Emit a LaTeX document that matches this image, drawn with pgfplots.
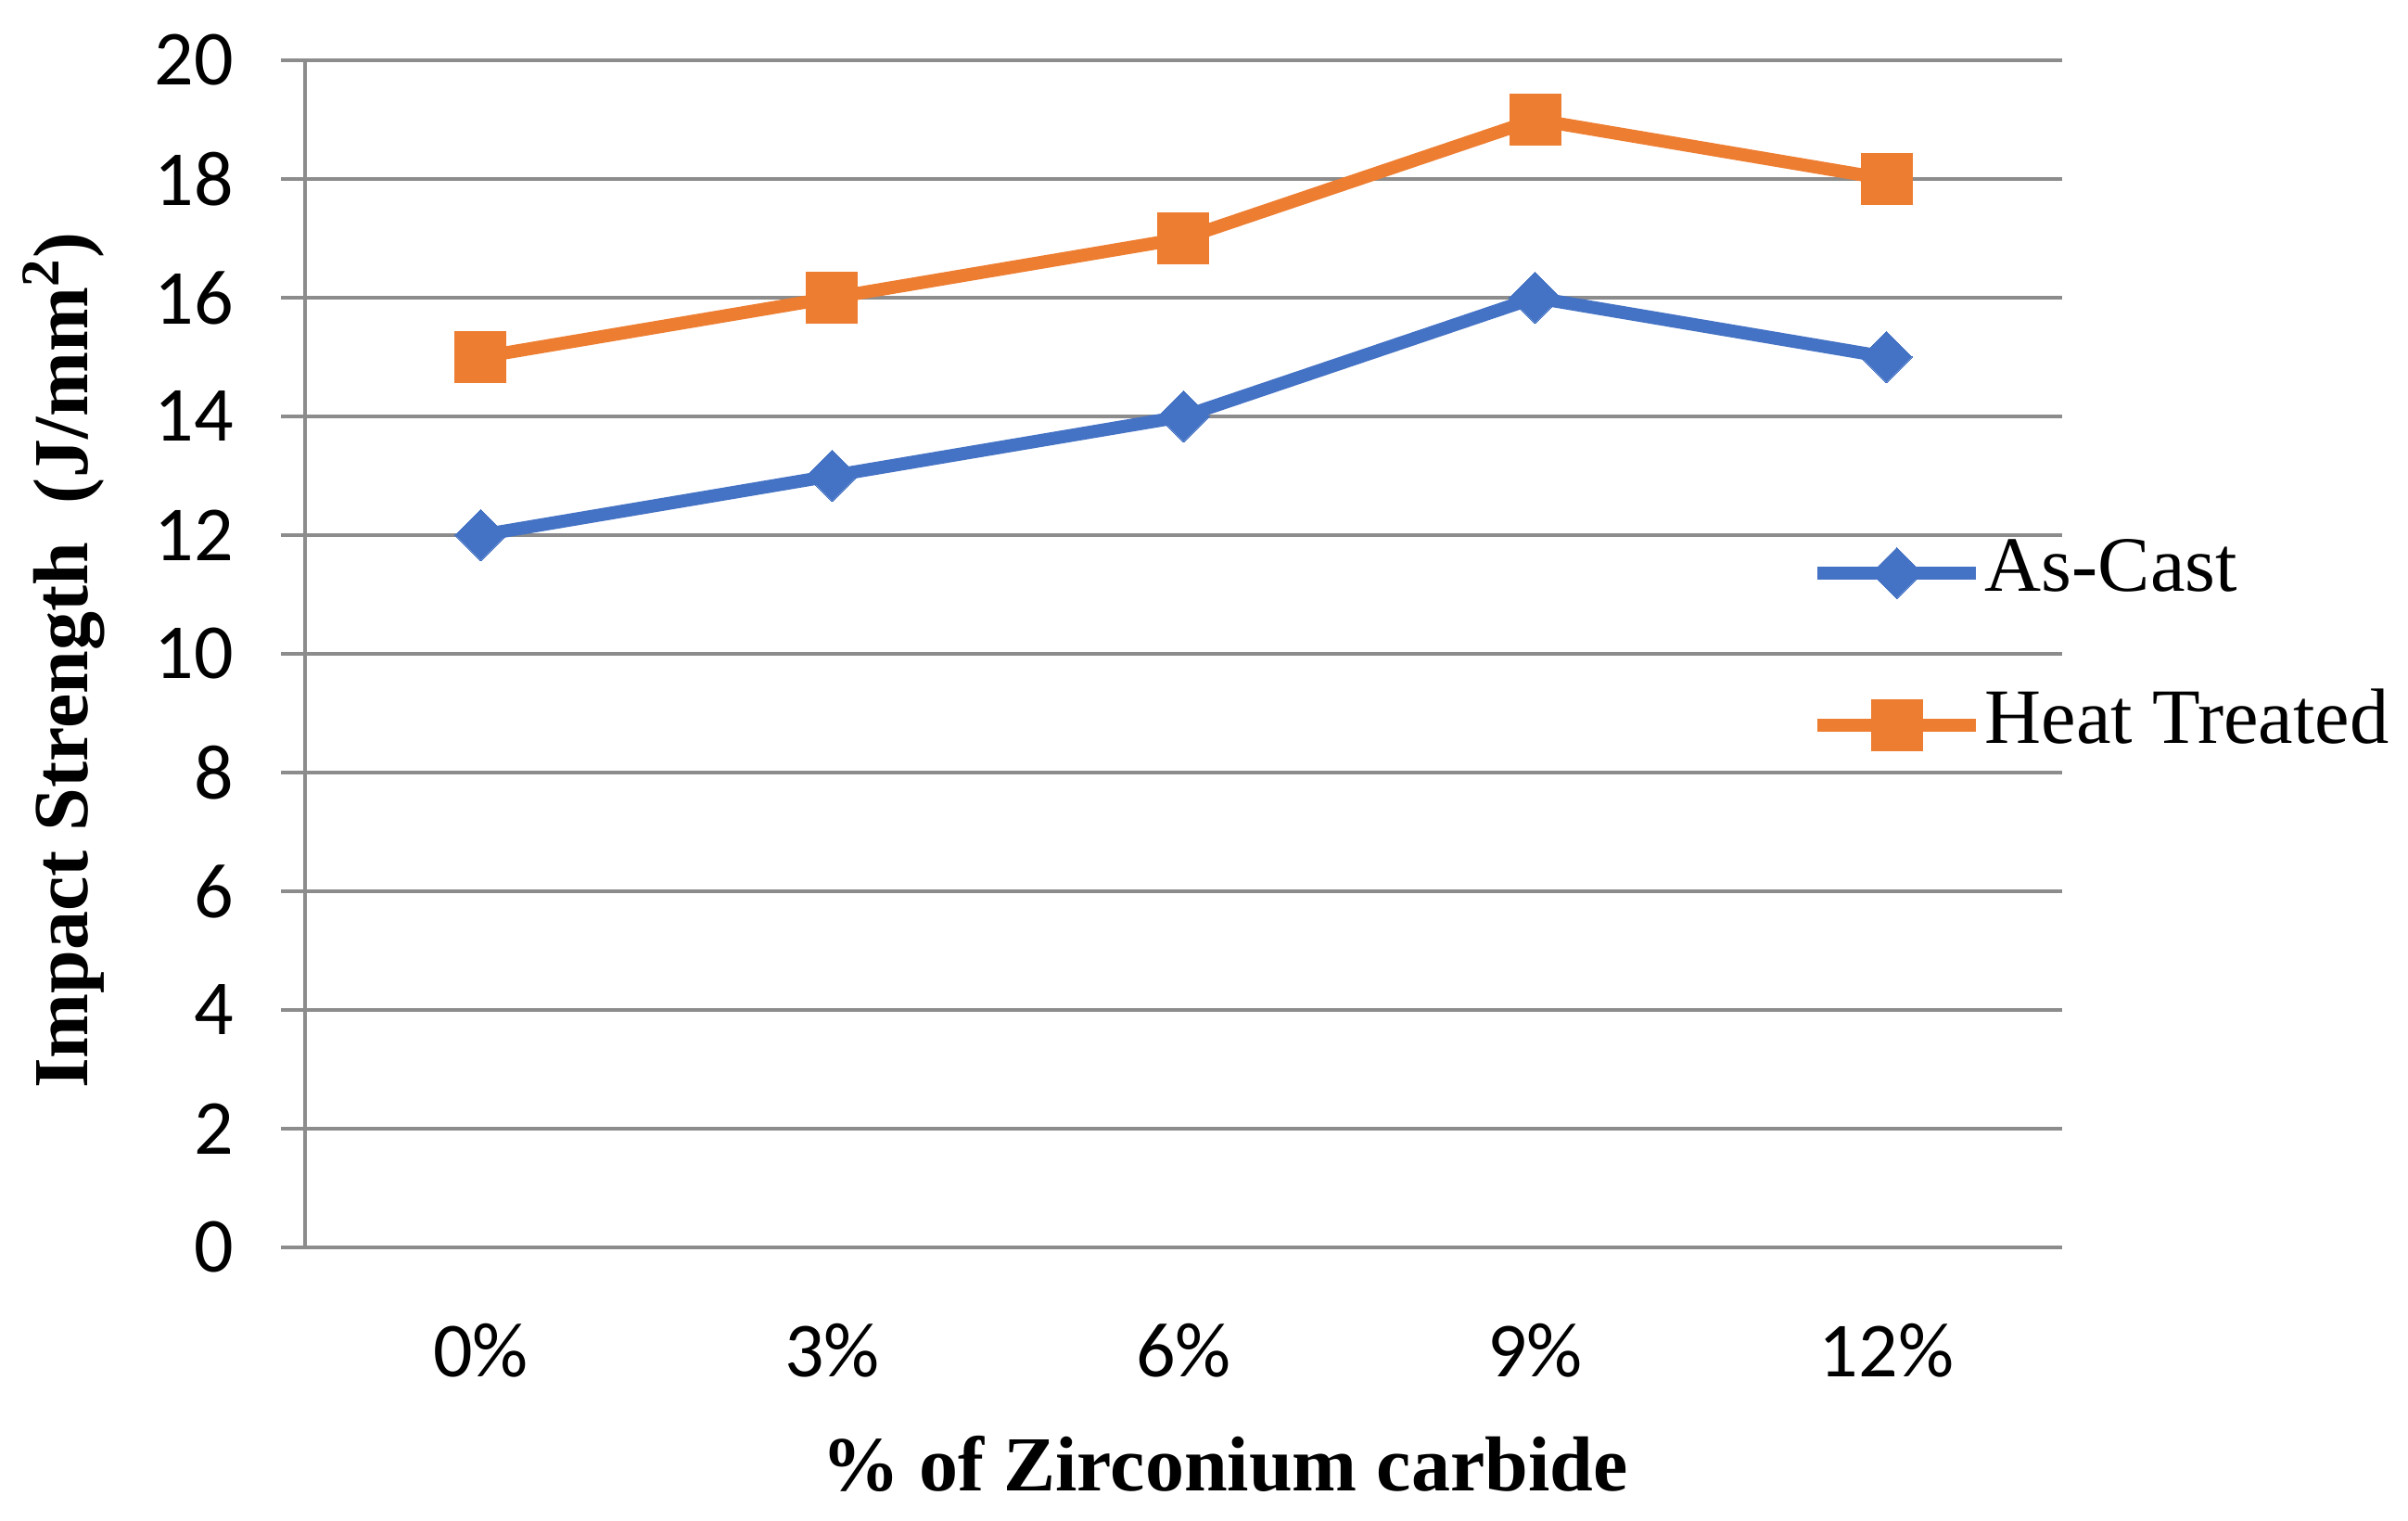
\documentclass[border=0pt]{standalone}
\usepackage{fontspec}
\setmainfont{Liberation Serif}
\newfontfamily\carlito{Carlito}
\usepackage{pgfplots}
\pgfplotsset{compat=1.18}

\definecolor{ascast}{HTML}{4472C4}
\definecolor{heat}{HTML}{ED7D31}
\definecolor{gridgray}{HTML}{8C8C8C}

\begin{document}
\begin{tikzpicture}
\begin{axis}[
    scale only axis,
    width=379pt, height=256pt,
    xmin=-0.5, xmax=4.5,
    ymin=0, ymax=20,
    xtick={0,1,2,3,4},
    xticklabels={0\%, 3\%, 6\%, 9\%, 12\%},
    ytick={0,2,...,20},
    axis lines*=left,
    axis line style={gridgray, line width=0.9pt},
    ymajorgrids,
    grid style={gridgray, line width=0.9pt},
    ytick pos=left,
    tick align=outside,
    major tick length=5.2pt,
    major tick style={gridgray, line width=0.9pt},
    x tick style={draw=none},
    /pgf/number format/assume math mode=true,
    ticklabel style={font=\carlito\fontsize{16.8}{20}\selectfont},
    yticklabel style={xshift=-6.7pt},
    xticklabel style={yshift=-7.7pt},
    xlabel={\% of Zirconium carbide},
    ylabel={Impact Strength\ \ (J/mm\textsuperscript{2})},
    label style={font=\bfseries\fontsize{16.8}{20}\selectfont},
    xlabel style={at={(axis description cs:0.5235,0)}, anchor=center, yshift=-46.6pt},
    ylabel style={at={(axis description cs:0,0.4945)}, anchor=base, yshift=46.8pt},
    legend style={draw=none, fill=none, at={(axis description cs:0.8566,0.504)},
        anchor=west, inner sep=0pt, row sep=15.8pt,
        font=\fontsize{16.9}{20}\selectfont,
        nodes={inner sep=0.5pt, text height=12pt, text depth=4pt}},
    legend cell align=left,
    legend image code/.code={
        \draw[mark repeat=2, mark phase=2] plot coordinates {(0pt,0pt) (17.1pt,0pt) (34.2pt,0pt)};
    },
]
\addplot[ascast, line width=2.8pt, mark=square*, mark size=3.9pt,
    mark options={rotate=45, line width=0pt}] coordinates {
    (0,12) (1,13) (2,14) (3,16) (4,15)
};
\addlegendentry{As-Cast}
\addplot[heat, line width=2.8pt, mark=square*, mark size=5.5pt,
    mark options={line width=0pt}] coordinates {
    (0,15) (1,16) (2,17) (3,19) (4,18)
};
\addlegendentry{Heat Treated}
\coordinate (bl) at (rel axis cs:0,0);
\end{axis}
\pgfresetboundingbox
\path[use as bounding box] (bl) ++(-65.8pt,-59pt) rectangle ++(519.4pt,328pt);
\end{tikzpicture}
\end{document}
